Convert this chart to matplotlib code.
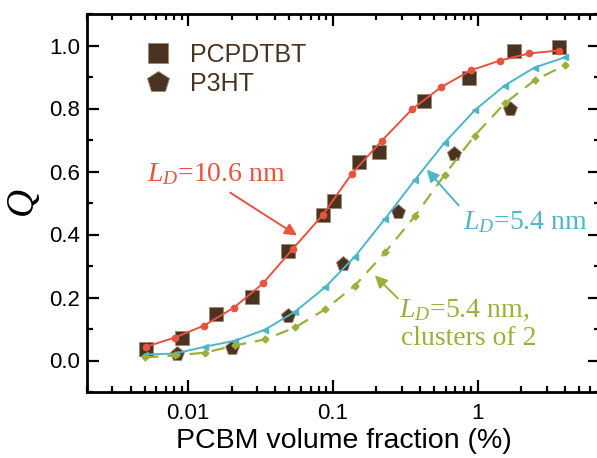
import matplotlib
matplotlib.use("Agg")
import matplotlib.pyplot as plt
import numpy as np
from matplotlib.ticker import FuncFormatter, LogLocator, MultipleLocator

# ---------------- data ----------------
fit106_x = [0.00513, 0.00813, 0.01288, 0.02075, 0.0329, 0.0530, 0.0853, 0.135,
            0.218, 0.351, 0.556, 0.896, 1.42, 2.28, 3.62]
fit106_y = [0.044, 0.073, 0.111, 0.168, 0.245, 0.355, 0.463, 0.593,
            0.698, 0.797, 0.867, 0.921, 0.952, 0.975, 0.984]

fit54_x = [0.00505, 0.00813, 0.0131, 0.0211, 0.0340, 0.0547, 0.0881, 0.142,
           0.229, 0.368, 0.592, 0.953, 1.535, 2.47, 3.98]
fit54_y = [0.019, 0.022, 0.044, 0.063, 0.098, 0.155, 0.232, 0.330,
           0.450, 0.573, 0.692, 0.794, 0.873, 0.930, 0.962]
fit54c_y = [0.010, 0.016, 0.025, 0.048, 0.067, 0.105, 0.162, 0.238,
            0.343, 0.458, 0.590, 0.714, 0.816, 0.889, 0.937]

pcpdtbt_x = [0.00513, 0.00909, 0.0156, 0.0276, 0.0490, 0.0853, 0.1016, 0.151,
             0.208, 0.424, 0.867, 1.77, 3.62]
pcpdtbt_y = [0.035, 0.070, 0.149, 0.203, 0.349, 0.463, 0.505, 0.629,
             0.663, 0.825, 0.898, 0.984, 0.994]

p3ht_x = [0.00839, 0.0201, 0.049, 0.117, 0.281, 0.683, 1.66]
p3ht_y = [0.022, 0.041, 0.140, 0.305, 0.473, 0.654, 0.797]

xtick_vals = [0.01, 0.1, 1, 10]
ytick_vals = [0.0, 0.2, 0.4, 0.6, 0.8, 1.0]

# ---------------- style ----------------
RED = "#E8523E"
CYAN = "#4DB6C9"
GREEN = "#9BB03C"
BROWN = "#4B3322"
EDGE = "#A08870"

plt.rcParams["mathtext.fontset"] = "custom"
plt.rcParams["mathtext.rm"] = "Liberation Serif"
plt.rcParams["mathtext.it"] = "Liberation Serif:italic"
plt.rcParams["font.family"] = ["Liberation Sans", "DejaVu Sans"]

fig = plt.figure(figsize=(5.97, 4.58), dpi=100)
ax = fig.add_axes([87 / 597, 66 / 458, 513 / 597, 378 / 458])

ax.plot(fit106_x, fit106_y, color=RED, lw=1.4, marker="o", ms=4.5, zorder=3)
ax.plot(fit54_x, fit54_y, color=CYAN, lw=1.4, marker="<", ms=4.5, zorder=3)
ax.plot(fit54_x, fit54c_y, color=GREEN, lw=1.6, ls=(0, (6, 4)), marker="D",
        ms=3.5, zorder=3)

ax.plot(pcpdtbt_x, pcpdtbt_y, ls="none", marker="s", ms=9.5, color=BROWN,
        mec=EDGE, mew=0.6, zorder=2, label="PCPDTBT")
ax.plot(p3ht_x, p3ht_y, ls="none", marker="p", ms=11, color=BROWN,
        mec=EDGE, mew=0.6, zorder=2, label="P3HT")

ax.set_xscale("log")
ax.xaxis.set_minor_locator(LogLocator(base=10, subs=np.arange(2, 10), numticks=10))
ax.set_xticks(xtick_vals)
ax.xaxis.set_major_formatter(FuncFormatter(lambda v, p: f"{v:g}"))
ax.set_xlim(0.002, 7)
ax.set_ylim(-0.1, 1.1)
ax.set_yticks(ytick_vals)
ax.yaxis.set_major_formatter(FuncFormatter(lambda v, p: f"{v:.1f}"))
ax.yaxis.set_minor_locator(MultipleLocator(0.1))

ax.tick_params(which="both", direction="in", top=True, right=True, width=1.6,
               labelsize=16, colors="black")
ax.tick_params(which="major", length=8.5)
ax.tick_params(which="minor", length=4.5)
ax.tick_params(axis="x", pad=8)
ax.tick_params(axis="y", pad=5)
for s in ax.spines.values():
    s.set_linewidth(2.0)

ax.set_xlabel("PCBM volume fraction (%)", fontsize=20.5, labelpad=3)
ax.set_ylabel("$Q$", fontsize=28, rotation=90)
ax.yaxis.set_label_coords(-0.088, 0.5)

leg = ax.legend(loc="upper left", bbox_to_anchor=(0.094, 0.95), frameon=False,
                fontsize=18, markerscale=1.5, handlelength=1.0,
                handletextpad=0.8, labelspacing=0.2, borderaxespad=0)
for t in leg.get_texts():
    t.set_color(BROWN)

tfont = dict(family="Liberation Serif", fontsize=20)
ax.annotate("", xy=(0.0565, 0.397), xytext=(0.0195, 0.533),
            arrowprops=dict(arrowstyle="-|>", color=RED, lw=1.4,
                            mutation_scale=18, shrinkA=0, shrinkB=0))
ax.text(0.0052, 0.568, r"$L_D$=10.6 nm", color=RED, ha="left", va="baseline", **tfont)

ax.annotate("", xy=(0.445, 0.606), xytext=(0.740, 0.492),
            arrowprops=dict(arrowstyle="-|>", color=CYAN, lw=1.4,
                            mutation_scale=18, shrinkA=0, shrinkB=0))
ax.text(0.79, 0.418, r"$L_D$=5.4 nm", color=CYAN, ha="left", va="baseline", **tfont)

ax.annotate("", xy=(0.195, 0.270), xytext=(0.281, 0.197),
            arrowprops=dict(arrowstyle="-|>", color=GREEN, lw=1.4,
                            mutation_scale=18, shrinkA=0, shrinkB=0))
ax.text(0.285, 0.137, r"$L_D$=5.4 nm,", color=GREEN, ha="left", va="baseline", **tfont)
ax.text(0.295, 0.048, "clusters of 2", color=GREEN, ha="left", va="baseline", **tfont)

fig.savefig("out.png", dpi=100)
